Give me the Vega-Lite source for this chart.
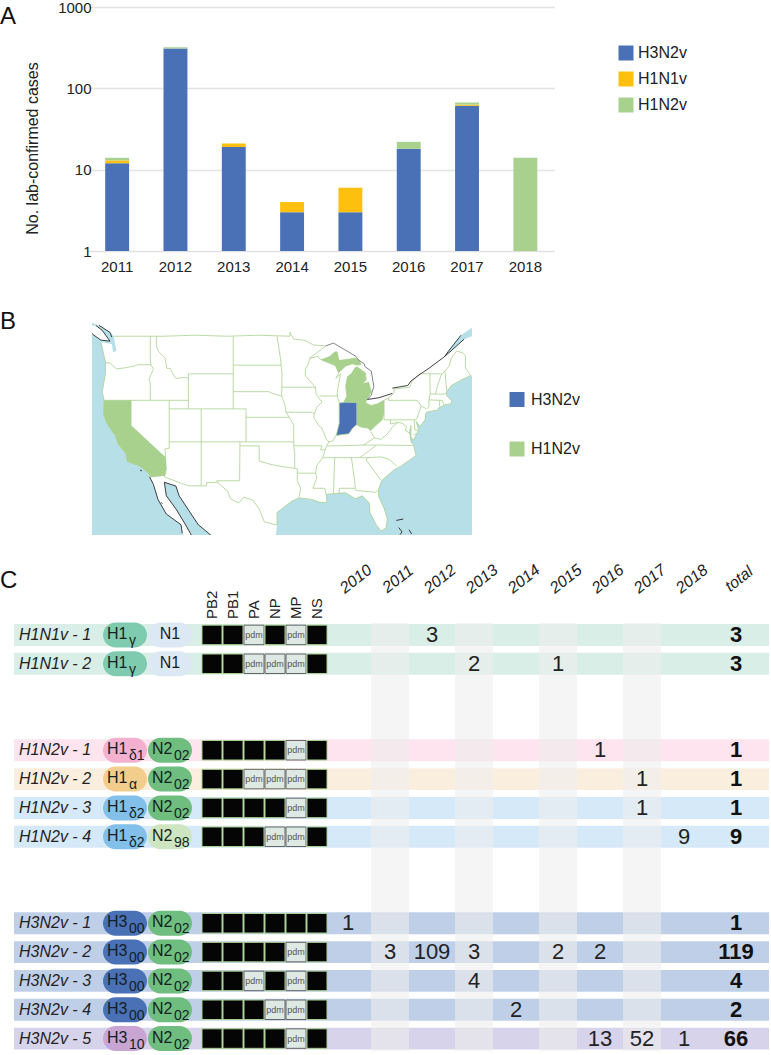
{"$schema":"https://vega.github.io/schema/vega-lite/v6.json","padding":0,"background":"white","spacing":0,
"config":{"view":{"stroke":null},"font":"Liberation Sans","text":{"font":"Liberation Sans"}},
"datasets":{
"cases":[
{"year":"2011","subtype":"H3N2v","low":1,"high":12},{"year":"2011","subtype":"H1N1v","low":12,"high":13},{"year":"2011","subtype":"H1N2v","low":13,"high":14},
{"year":"2012","subtype":"H3N2v","low":1,"high":309},{"year":"2012","subtype":"H1N2v","low":309,"high":320},
{"year":"2013","subtype":"H3N2v","low":1,"high":19},{"year":"2013","subtype":"H1N1v","low":19,"high":21},
{"year":"2014","subtype":"H3N2v","low":1,"high":3},{"year":"2014","subtype":"H1N1v","low":3,"high":4},
{"year":"2015","subtype":"H3N2v","low":1,"high":3},{"year":"2015","subtype":"H1N1v","low":3,"high":6},
{"year":"2016","subtype":"H3N2v","low":1,"high":18},{"year":"2016","subtype":"H1N2v","low":18,"high":22},
{"year":"2017","subtype":"H3N2v","low":1,"high":61},{"year":"2017","subtype":"H1N1v","low":61,"high":63},{"year":"2017","subtype":"H1N2v","low":63,"high":67},
{"year":"2018","subtype":"H1N2v","low":1,"high":14}],
"strains":[
{"strain":"H1N1v - 1","family":"H1N1","total":3},{"strain":"H1N1v - 2","family":"H1N1","total":3},
{"strain":"H1N2v - 1","family":"d1","total":1},{"strain":"H1N2v - 2","family":"alpha","total":1},{"strain":"H1N2v - 3","family":"d2","total":1},{"strain":"H1N2v - 4","family":"d2","total":9},
{"strain":"H3N2v - 1","family":"H300","total":1},{"strain":"H3N2v - 2","family":"H300","total":119},{"strain":"H3N2v - 3","family":"H300","total":4},{"strain":"H3N2v - 4","family":"H300","total":2},{"strain":"H3N2v - 5","family":"H310","total":66}],
"counts":[
{"strain":"H1N1v - 1","year":"2012","n":3},{"strain":"H1N1v - 2","year":"2013","n":2},{"strain":"H1N1v - 2","year":"2015","n":1},
{"strain":"H1N2v - 1","year":"2016","n":1},{"strain":"H1N2v - 2","year":"2017","n":1},{"strain":"H1N2v - 3","year":"2017","n":1},{"strain":"H1N2v - 4","year":"2018","n":9},
{"strain":"H3N2v - 1","year":"2010","n":1},
{"strain":"H3N2v - 2","year":"2011","n":3},{"strain":"H3N2v - 2","year":"2012","n":109},{"strain":"H3N2v - 2","year":"2013","n":3},{"strain":"H3N2v - 2","year":"2015","n":2},{"strain":"H3N2v - 2","year":"2016","n":2},
{"strain":"H3N2v - 3","year":"2013","n":4},{"strain":"H3N2v - 4","year":"2014","n":2},
{"strain":"H3N2v - 5","year":"2016","n":13},{"strain":"H3N2v - 5","year":"2017","n":52},{"strain":"H3N2v - 5","year":"2018","n":1}],
"pills":[
{"strain":"H1N1v - 1","seg":"HA","pill":"H1g","main":"H1","sub":"γ"},{"strain":"H1N1v - 1","seg":"NA","pill":"N1","main":"N1","sub":""},
{"strain":"H1N1v - 2","seg":"HA","pill":"H1g","main":"H1","sub":"γ"},{"strain":"H1N1v - 2","seg":"NA","pill":"N1","main":"N1","sub":""},
{"strain":"H1N2v - 1","seg":"HA","pill":"H1d1","main":"H1","sub":"δ1"},{"strain":"H1N2v - 1","seg":"NA","pill":"N202","main":"N2","sub":"02"},
{"strain":"H1N2v - 2","seg":"HA","pill":"H1a","main":"H1","sub":"α"},{"strain":"H1N2v - 2","seg":"NA","pill":"N202","main":"N2","sub":"02"},
{"strain":"H1N2v - 3","seg":"HA","pill":"H1d2","main":"H1","sub":"δ2"},{"strain":"H1N2v - 3","seg":"NA","pill":"N202","main":"N2","sub":"02"},
{"strain":"H1N2v - 4","seg":"HA","pill":"H1d2","main":"H1","sub":"δ2"},{"strain":"H1N2v - 4","seg":"NA","pill":"N298","main":"N2","sub":"98"},
{"strain":"H3N2v - 1","seg":"HA","pill":"H300","main":"H3","sub":"00"},{"strain":"H3N2v - 1","seg":"NA","pill":"N202","main":"N2","sub":"02"},
{"strain":"H3N2v - 2","seg":"HA","pill":"H300","main":"H3","sub":"00"},{"strain":"H3N2v - 2","seg":"NA","pill":"N202","main":"N2","sub":"02"},
{"strain":"H3N2v - 3","seg":"HA","pill":"H300","main":"H3","sub":"00"},{"strain":"H3N2v - 3","seg":"NA","pill":"N202","main":"N2","sub":"02"},
{"strain":"H3N2v - 4","seg":"HA","pill":"H300","main":"H3","sub":"00"},{"strain":"H3N2v - 4","seg":"NA","pill":"N202","main":"N2","sub":"02"},
{"strain":"H3N2v - 5","seg":"HA","pill":"H310","main":"H3","sub":"10"},{"strain":"H3N2v - 5","seg":"NA","pill":"N202","main":"N2","sub":"02"}],
"genes":[
{"strain":"H1N1v - 1","gene":"PB2","origin":"classic"},{"strain":"H1N1v - 1","gene":"PB1","origin":"classic"},{"strain":"H1N1v - 1","gene":"PA","origin":"pdm"},{"strain":"H1N1v - 1","gene":"NP","origin":"classic"},{"strain":"H1N1v - 1","gene":"MP","origin":"pdm"},{"strain":"H1N1v - 1","gene":"NS","origin":"classic"},
{"strain":"H1N1v - 2","gene":"PB2","origin":"classic"},{"strain":"H1N1v - 2","gene":"PB1","origin":"classic"},{"strain":"H1N1v - 2","gene":"PA","origin":"pdm"},{"strain":"H1N1v - 2","gene":"NP","origin":"pdm"},{"strain":"H1N1v - 2","gene":"MP","origin":"pdm"},{"strain":"H1N1v - 2","gene":"NS","origin":"classic"},
{"strain":"H1N2v - 1","gene":"PB2","origin":"classic"},{"strain":"H1N2v - 1","gene":"PB1","origin":"classic"},{"strain":"H1N2v - 1","gene":"PA","origin":"classic"},{"strain":"H1N2v - 1","gene":"NP","origin":"classic"},{"strain":"H1N2v - 1","gene":"MP","origin":"pdm"},{"strain":"H1N2v - 1","gene":"NS","origin":"classic"},
{"strain":"H1N2v - 2","gene":"PB2","origin":"classic"},{"strain":"H1N2v - 2","gene":"PB1","origin":"classic"},{"strain":"H1N2v - 2","gene":"PA","origin":"pdm"},{"strain":"H1N2v - 2","gene":"NP","origin":"pdm"},{"strain":"H1N2v - 2","gene":"MP","origin":"pdm"},{"strain":"H1N2v - 2","gene":"NS","origin":"classic"},
{"strain":"H1N2v - 3","gene":"PB2","origin":"classic"},{"strain":"H1N2v - 3","gene":"PB1","origin":"classic"},{"strain":"H1N2v - 3","gene":"PA","origin":"classic"},{"strain":"H1N2v - 3","gene":"NP","origin":"classic"},{"strain":"H1N2v - 3","gene":"MP","origin":"pdm"},{"strain":"H1N2v - 3","gene":"NS","origin":"classic"},
{"strain":"H1N2v - 4","gene":"PB2","origin":"classic"},{"strain":"H1N2v - 4","gene":"PB1","origin":"classic"},{"strain":"H1N2v - 4","gene":"PA","origin":"classic"},{"strain":"H1N2v - 4","gene":"NP","origin":"pdm"},{"strain":"H1N2v - 4","gene":"MP","origin":"pdm"},{"strain":"H1N2v - 4","gene":"NS","origin":"classic"},
{"strain":"H3N2v - 1","gene":"PB2","origin":"classic"},{"strain":"H3N2v - 1","gene":"PB1","origin":"classic"},{"strain":"H3N2v - 1","gene":"PA","origin":"classic"},{"strain":"H3N2v - 1","gene":"NP","origin":"classic"},{"strain":"H3N2v - 1","gene":"MP","origin":"classic"},{"strain":"H3N2v - 1","gene":"NS","origin":"classic"},
{"strain":"H3N2v - 2","gene":"PB2","origin":"classic"},{"strain":"H3N2v - 2","gene":"PB1","origin":"classic"},{"strain":"H3N2v - 2","gene":"PA","origin":"classic"},{"strain":"H3N2v - 2","gene":"NP","origin":"classic"},{"strain":"H3N2v - 2","gene":"MP","origin":"pdm"},{"strain":"H3N2v - 2","gene":"NS","origin":"classic"},
{"strain":"H3N2v - 3","gene":"PB2","origin":"classic"},{"strain":"H3N2v - 3","gene":"PB1","origin":"classic"},{"strain":"H3N2v - 3","gene":"PA","origin":"pdm"},{"strain":"H3N2v - 3","gene":"NP","origin":"classic"},{"strain":"H3N2v - 3","gene":"MP","origin":"pdm"},{"strain":"H3N2v - 3","gene":"NS","origin":"classic"},
{"strain":"H3N2v - 4","gene":"PB2","origin":"classic"},{"strain":"H3N2v - 4","gene":"PB1","origin":"classic"},{"strain":"H3N2v - 4","gene":"PA","origin":"classic"},{"strain":"H3N2v - 4","gene":"NP","origin":"pdm"},{"strain":"H3N2v - 4","gene":"MP","origin":"pdm"},{"strain":"H3N2v - 4","gene":"NS","origin":"classic"},
{"strain":"H3N2v - 5","gene":"PB2","origin":"classic"},{"strain":"H3N2v - 5","gene":"PB1","origin":"classic"},{"strain":"H3N2v - 5","gene":"PA","origin":"classic"},{"strain":"H3N2v - 5","gene":"NP","origin":"classic"},{"strain":"H3N2v - 5","gene":"MP","origin":"pdm"},{"strain":"H3N2v - 5","gene":"NS","origin":"classic"}],
"geneNames":[{"gene":"PB2"},{"gene":"PB1"},{"gene":"PA"},{"gene":"NP"},{"gene":"MP"},{"gene":"NS"}],
"yearNames":[{"year":"2010"},{"year":"2011"},{"year":"2012"},{"year":"2013"},{"year":"2014"},{"year":"2015"},{"year":"2016"},{"year":"2017"},{"year":"2018"}],
"shaded":[{"year":"2011"},{"year":"2013"},{"year":"2015"},{"year":"2017"}],
"land":[{"type":"Feature","properties":{"name":"land"},"geometry":{"type":"Polygon","coordinates":[[[-127,51.5],[-97,51.5],[-66,51.5],[-66,50.2],[-68.5,49.1],[-70.5,47.4],[-71,46.9],[-70,47.5],[-68,48.7],[-66,49.2],[-66,45],[-67,44.8],[-68.5,44.3],[-70,43.7],[-70.7,43],[-70.8,42.6],[-70,42],[-70,41.6],[-71,41.5],[-72,41.1],[-72,40.9],[-73.9,40.6],[-74,40.4],[-74.1,39.7],[-74.9,38.9],[-75.5,39.5],[-75.1,38.5],[-75.9,37.2],[-76.3,37.6],[-76.3,39],[-76.5,38.3],[-76.3,37],[-75.9,36.6],[-75.5,35.3],[-76.5,34.7],[-77.9,33.9],[-79,33.4],[-80.9,32],[-81.4,30.7],[-81.3,29.8],[-80.5,28.3],[-80,26.8],[-80.2,25.5],[-81,25.1],[-81.8,26.1],[-82.7,27.7],[-82.8,29],[-83.9,30],[-85,29.6],[-86.5,30.4],[-88,30.3],[-89.5,30.2],[-89.4,29.1],[-90.5,29.1],[-91.8,29.5],[-93.8,29.7],[-95,29.2],[-97.2,27.7],[-97.2,26],[-97.7,22.5],[-105.5,22.5],[-107.5,24.5],[-109.5,26],[-111,28],[-112.5,30],[-113,31.3],[-114.8,31.8],[-114.5,30],[-113,28.2],[-111.5,26],[-110.2,24],[-109.8,23],[-110,22.9],[-112,24.8],[-112.2,26],[-114.5,27.5],[-115.8,29.5],[-116.5,31.5],[-117.1,32.5],[-117.3,33],[-118.4,33.8],[-119.2,34.1],[-120.6,34.5],[-120.8,35.5],[-122,36.7],[-122.5,37.8],[-123.8,39.3],[-124.3,40.4],[-124.2,42],[-124.5,43],[-124,45],[-124,46.3],[-124.7,48.4],[-123,48.2],[-122.8,47.3],[-122.3,47.5],[-122.7,49],[-123.3,49.4],[-125,50.1],[-127,50.6],[-127,51.5]]]}},
{"type":"Feature","properties":{"name":"vancouver"},"geometry":{"type":"Polygon","coordinates":[[[-125.5,50.1],[-124.5,49.6],[-123.3,48.5],[-124.7,48.6],[-126,49.2],[-127,50],[-125.5,50.1]]]}}],
"lines":[{"type":"Feature","properties":{"kind":"state"},"geometry":{"type":"MultiLineString","coordinates":[
[[-122.7,49],[-115,49],[-105,49],[-95.2,49],[-95.2,49.4],[-94.6,48.7],[-93,48.6],[-91.5,48.1],[-89.6,48],[-92.1,46.7],[-90.8,46.9],[-90.4,46.55]],
[[-124,46.25],[-123.2,46.15],[-122.3,45.55],[-121,45.65],[-119.3,45.9],[-119,46],[-116.9,46]],
[[-117,49],[-117,46.4],[-116.9,46],[-116.5,45.5],[-116.9,44.9],[-117.2,44.4],[-117,44],[-117,42]],
[[-124.2,42],[-120,42],[-117,42],[-114,42],[-111.05,42]],
[[-120,42],[-120,39],[-114.6,35],[-114.5,33.5],[-114.7,32.7],[-117.1,32.5]],
[[-114.05,42],[-114.05,36.2],[-114.7,36.1],[-114.6,35]],
[[-116.05,49],[-116.05,48],[-115.7,47.4],[-114.7,46.7],[-114.4,45.6],[-113.9,45.6],[-113.4,44.9],[-113,44.5],[-111.5,44.6],[-111.05,44.5]],
[[-111.05,45],[-111.05,41]],[[-111.05,45],[-104.05,45]],[[-114.05,41],[-109.05,41],[-104.05,41],[-102.05,41],[-102.05,37]],
[[-104.05,49],[-104.05,41]],[[-104.05,45.95],[-96.6,45.95]],[[-104.05,43],[-98.5,43],[-97.9,42.8],[-96.5,42.5]],
[[-102.05,40],[-95.3,40]],[[-109.05,41],[-109.05,31.33]],[[-114.05,37],[-109.05,37],[-102.05,37],[-94.6,37]],
[[-114.7,32.7],[-114.8,32.5],[-111.07,31.33],[-108.2,31.33],[-108.2,31.78],[-106.5,31.78]],
[[-103,37],[-103.05,32],[-106.6,32],[-106.5,31.78]],
[[-103,36.5],[-100,36.5],[-100,34.56],[-98,34.1],[-96,33.8],[-94.5,33.65],[-94.05,33.55],[-94.05,33],[-94.05,32],[-93.5,31],[-93.8,29.7]],
[[-106.5,31.78],[-104.9,30.6],[-104.5,29.6],[-103.2,29],[-102.4,29.8],[-101,29.4],[-100,28.2],[-99.2,26.4],[-97.2,25.95]],
[[-95.3,40],[-94.6,39.1],[-94.6,36.5],[-94.45,35.4],[-94.45,33.65]],
[[-94.05,33],[-91.2,33]],[[-94.6,36.5],[-90.2,36.5],[-90.4,36],[-89.7,36]],
[[-92.1,46.7],[-92.3,46.1],[-92.8,45.5],[-92.8,44.8],[-91.2,43.5],[-91.1,42.7],[-90.2,41.8],[-91,41.2],[-91.4,40.4],[-91.5,40],[-90.7,39],[-90.2,38.7],[-89.5,37.3],[-89.1,37],[-89.5,36.5],[-89.7,36],[-90.1,35],[-91,34],[-91.2,33],[-91,32.4],[-91.6,31],[-89.75,31],[-89.6,30.2]],
[[-96.45,43.5],[-91.2,43.5]],[[-97.2,49],[-96.6,46.3],[-96.6,45.95],[-96.45,45.3],[-96.45,43.5],[-96.5,42.5],[-96,41.5],[-95.8,40.6],[-95.3,40]],
[[-95.8,40.6],[-91.7,40.6],[-91.4,40.4]],[[-90.6,42.5],[-87.8,42.5]],
[[-90.4,46.55],[-88.1,45.9],[-87.6,45.1],[-88,44.5],[-87.3,45],[-87.8,43],[-87.8,42.5],[-87.5,41.7],[-87.5,39.3],[-87.9,38],[-88,37.8]],
[[-89.1,37],[-88.5,37.1],[-88,37.8],[-87,37.9],[-86,38],[-85.4,38.7],[-84.8,39.1],[-84,38.8],[-83,38.7],[-82.6,38.4],[-81.8,39],[-80.8,39.7],[-80.5,40.6]],
[[-89.4,36.5],[-88,36.5],[-83.7,36.6],[-81.7,36.6],[-75.9,36.55]],[[-83.7,36.6],[-82,37.5],[-82.6,38.3]],
[[-82,37.5],[-81,37.3],[-80,38],[-79,39],[-78.3,39.4],[-77.7,39.3],[-77,38.9],[-77.2,38.4],[-76.3,38]],
[[-81.7,36.6],[-82.8,35.9],[-84.3,35]],[[-90.1,35],[-84.3,35],[-83.1,35]],[[-88.2,35],[-88.4,30.3]],
[[-85.6,35],[-85.1,32],[-85,31]],[[-87.5,30.3],[-87.5,31],[-85,31],[-84.9,30.7],[-82.2,30.5],[-82,30.4],[-81.5,30.7]],
[[-83.1,35],[-83.3,34.7],[-81,32.1]],[[-83.1,35],[-81,35.1],[-79.7,34.8],[-78.5,33.9]],
[[-80.5,42],[-80.5,39.7],[-75.8,39.7],[-75.4,39.8]],[[-79.8,42.27],[-79.8,42],[-75.3,42],[-74.7,41.35],[-73.9,41]],[[-74.7,41.35],[-75.1,40.5],[-75.4,39.8]],
[[-79.5,39.7],[-79.5,39.2],[-78.3,39.4]],[[-75.8,39.7],[-75.7,38.45],[-75.05,38.45]],[[-75.9,37.9],[-75.4,38]],
[[-79.8,42.27],[-78.9,42.9],[-79,43.3],[-76.5,43.5],[-76.2,44.1],[-75,45],[-71.5,45],[-71,45.3],[-70.7,43]],
[[-71.5,45],[-72,44],[-72.5,42.73]],[[-73.35,45],[-73.3,42.75],[-73.5,42],[-73.5,41.3],[-73.7,41]],
[[-73.5,42.05],[-71.8,42],[-71.4,42],[-71.2,41.5]],[[-71.8,42],[-71.85,41.3]],[[-73.3,42.75],[-71.3,42.7],[-70.8,42.85]],
[[-71,45.3],[-70.3,45.9],[-70,46.7],[-69.2,47.45],[-68.3,47.3],[-67.8,47],[-67.8,45.7],[-67,44.8]],
[[-67,44.8],[-68.5,44.3],[-70,43.7],[-70.7,43],[-70.8,42.6],[-70,42],[-70,41.6],[-71,41.5],[-72,41.1],[-72,40.9],[-73.9,40.6],[-74,40.4],[-74.1,39.7],[-74.9,38.9],[-75.5,39.5],[-75.1,38.5],[-75.9,37.2],[-76.3,37.6],[-76.3,39],[-76.5,38.3],[-76.3,37],[-75.9,36.6],[-75.5,35.3],[-76.5,34.7],[-77.9,33.9],[-79,33.4],[-80.9,32],[-81.4,30.7],[-81.3,29.8],[-80.5,28.3],[-80,26.8],[-80.2,25.5],[-81,25.1],[-81.8,26.1],[-82.7,27.7],[-82.8,29],[-83.9,30],[-85,29.6],[-86.5,30.4],[-88,30.3],[-89.5,30.2],[-89.4,29.1],[-90.5,29.1],[-91.8,29.5],[-93.8,29.7],[-95,29.2],[-97.2,27.7],[-97.2,26]],
[[-117.3,33],[-118.4,33.8],[-119.2,34.1],[-120.6,34.5],[-120.8,35.5],[-122,36.7],[-122.5,37.8],[-123.8,39.3],[-124.3,40.4],[-124.2,42],[-124.5,43],[-124,45],[-124,46.3],[-124.7,48.4]],
[[-87.5,41.7],[-86.8,41.76],[-86.3,42.5],[-86.5,43.6],[-86.2,44.7],[-85.6,45],[-85,45.7],[-84.7,45.75],[-83.4,45.1],[-83.3,44.3],[-83.9,43.9],[-82.9,44.05],[-82.5,43],[-83.1,42.2],[-83.4,41.7],[-82.5,41.4],[-81.5,41.6],[-80.5,42],[-79.8,42.27]]
]}},
{"type":"Feature","properties":{"kind":"international"},"geometry":{"type":"MultiLineString","coordinates":[
[[-89.6,48],[-88.4,48.3],[-84.9,46.9],[-84.5,46.5],[-83.6,46.1],[-83.5,45.8],[-82.5,45.3],[-82.1,43.6],[-82.5,42.6],[-83.1,42.1]]
]}},
{"type":"Feature","properties":{"kind":"coast"},"geometry":{"type":"MultiLineString","coordinates":[
[[-83.1,42.1],[-81.3,42.3],[-79.2,42.8]],[[-79.2,43.4],[-76.8,43.7],[-76.3,44.2],[-74.8,45],[-73.5,45.6],[-71.2,46.8],[-70,47.5],[-68,48.7]],
[[-68.5,49.1],[-70.5,47.4],[-71,46.9]],
[[-117.1,32.5],[-116.5,31.5],[-115.8,29.5],[-114.5,27.5],[-112.2,26],[-112,24.8]],[[-114.8,31.8],[-114.5,30],[-113,28.2],[-111.5,26],[-110.5,24.4]],
[[-114.8,31.8],[-113,31.3],[-112.5,30],[-111,28],[-109.5,26],[-107.5,24.5]],
[[-123.3,48.5],[-124.7,48.6],[-126,49.2],[-127,50]],[[-125.5,50.1],[-124.5,49.6],[-123.3,48.5]],[[-123,48.9],[-123.3,49.4],[-125,50.1]],
[[-78.2,25.6],[-77.7,25],[-78,24.6]],[[-77.5,26.8],[-78.6,26.6]],[[-76.6,25.3],[-76.2,24.7]],
[[-118.6,33.4],[-118.3,33.3]],[[-115.3,29.1],[-115.1,28.9]]
]}}],
"states":[
{"type":"Feature","properties":{"name":"California","subtype":"H1N2v"},"geometry":{"type":"Polygon","coordinates":[[[-124.2,42],[-120,42],[-120,39],[-114.6,35],[-114.5,33.5],[-114.7,32.7],[-117.1,32.5],[-117.3,33],[-118.4,33.8],[-119.2,34.1],[-120.6,34.5],[-120.8,35.5],[-122,36.7],[-122.5,37.8],[-123.8,39.3],[-124.3,40.4],[-124.2,42]]]}},
{"type":"Feature","properties":{"name":"Michigan","subtype":"H1N2v"},"geometry":{"type":"MultiPolygon","coordinates":[[[[-86.8,41.76],[-86.3,42.5],[-86.5,43.6],[-86.2,44.7],[-85.6,45],[-85,45.7],[-84.7,45.75],[-83.4,45.1],[-83.3,44.3],[-83.9,43.9],[-82.9,44.05],[-82.5,43],[-83.1,42.2],[-83.4,41.7],[-84.8,41.7],[-86.8,41.76]]],[[[-90.4,46.55],[-89,46.9],[-88.2,47.4],[-87.8,47.4],[-87.5,46.5],[-86,46.65],[-85,46.75],[-84.4,46.5],[-84,46],[-84.7,45.9],[-85.5,46.05],[-86.5,45.8],[-87.6,45.1],[-88.1,45.9],[-90.4,46.55]]]]}},
{"type":"Feature","properties":{"name":"Ohio","subtype":"H1N2v"},"geometry":{"type":"Polygon","coordinates":[[[-84.8,41.7],[-83.4,41.7],[-82.5,41.4],[-81.5,41.6],[-80.5,42],[-80.5,40.6],[-80.8,39.7],[-81.8,39],[-82.6,38.4],[-83,38.7],[-84,38.8],[-84.8,39.1],[-84.8,41.7]]]}},
{"type":"Feature","properties":{"name":"Indiana","subtype":"H3N2v"},"geometry":{"type":"Polygon","coordinates":[[[-87.5,41.7],[-86.8,41.76],[-84.8,41.7],[-84.8,39.1],[-85.4,38.7],[-86,38],[-87,37.9],[-88,37.8],[-87.9,38],[-87.5,39.3],[-87.5,41.7]]]}}],
"mapKey":[{"subtype":"H3N2v"},{"subtype":"H1N2v"}]
},
"vconcat":[
{"spacing":0,"bounds":"flush","hconcat":[
{"width":95,"height":309,"title":{"text":"A","anchor":"start","frame":"group","offset":0,"dy":47,"baseline":"alphabetic","fontSize":24,"fontWeight":"normal","font":"Liberation Sans","color":"#111"},"data":{"values":[]},"mark":"text"},
{"width":460,"height":250,"data":{"name":"cases"},"mark":{"type":"bar"},
"encoding":{
"x":{"field":"year","type":"nominal","title":null,"scale":{"domain":["2011","2012","2013","2014","2015","2016","2017","2018"],"range":[-7,459.5],"paddingInner":0.59,"paddingOuter":0.295},"axis":{"labelAngle":0,"labelFontSize":15,"labelFont":"Liberation Sans","labelColor":"#222","ticks":false,"domainColor":"#e0e0e0","labelPadding":8}},
"y":{"field":"high","type":"quantitative","title":"No. lab-confirmed cases","scale":{"type":"log","domain":[1,1000],"range":[250,6],"nice":false},"axis":{"values":[1,10,100,1000],"format":"d","grid":true,"gridColor":"#e4e4e4","gridWidth":1.5,"domain":false,"ticks":false,"labelFontSize":15,"labelFont":"Liberation Sans","labelColor":"#222","labelPadding":4,"titleFontSize":16,"titleFont":"Liberation Sans","titleFontWeight":"normal","titleColor":"#222","titlePadding":17,"titleY":147}},
"y2":{"field":"low"},
"color":{"field":"subtype","type":"nominal","scale":{"domain":["H3N2v","H1N1v","H1N2v"],"range":["#4a71b5","#fec00f","#a9d18e"]},"legend":{"orient":"none","legendX":618,"legendY":44,"title":null,"symbolType":"square","symbolSize":225,"symbolStrokeWidth":0,"labelFontSize":16,"labelFont":"Liberation Sans","labelColor":"#222","rowPadding":10}}}}
]},
{"spacing":0,"bounds":"flush","hconcat":[
{"width":92,"height":239.5,"title":{"text":"B","anchor":"start","frame":"group","offset":0,"dy":32,"baseline":"alphabetic","fontSize":24,"fontWeight":"normal","font":"Liberation Sans","color":"#111"},"data":{"values":[]},"mark":"text"},
{"width":380,"height":214,"view":{"fill":"#b7dfe8"},"projection":{"type":"mercator","scale":367,"translate":[807.7,376.3]},
"layer":[
{"data":{"name":"land"},"mark":{"type":"geoshape","fill":"white","stroke":null,"clip":true}},
{"data":{"name":"states"},"mark":{"type":"geoshape","clip":true,"stroke":null},"encoding":{"color":{"field":"properties.subtype","type":"nominal","scale":{"domain":["H3N2v","H1N2v"],"range":["#4a71b5","#a9d18e"]},"legend":null}}},
{"data":{"name":"lines"},"mark":{"type":"geoshape","filled":false,"clip":true,"strokeWidth":0.8},"encoding":{"stroke":{"field":"properties.kind","type":"nominal","scale":{"domain":["state","international","coast"],"range":["#a9d18e","#666666","#111111"]},"legend":null}}}
]},
{"width":90,"height":214,"data":{"name":"mapKey"},"encoding":{"y":{"field":"subtype","type":"nominal","title":null,"axis":null,"scale":{"type":"point","domain":["H3N2v","H1N2v"],"range":[78.5,128],"padding":0}}},
"layer":[
{"mark":{"type":"square","size":225,"opacity":1},"encoding":{"color":{"field":"subtype","type":"nominal","legend":null,"scale":{"domain":["H3N2v","H1N2v"],"range":["#4a71b5","#a9d18e"]}}}},
{"mark":{"type":"text","align":"left","dx":14,"fontSize":16,"color":"#222","font":"Liberation Sans"},"encoding":{"text":{"field":"subtype"}}}
]}
]},
{"spacing":0,"bounds":"flush","hconcat":[
{"width":14,"height":428,"title":{"text":"C","anchor":"start","frame":"group","offset":0,"dy":-11,"baseline":"alphabetic","fontSize":24,"fontWeight":"normal","font":"Liberation Sans","color":"#111"},"data":{"values":[]},"mark":"text"},
{"width":755,"height":428,"resolve":{"scale":{"x":"independent","color":"independent"}},
"layer":[
{"data":{"name":"strains"},"mark":{"type":"rect"},"encoding":{
"y":{"field":"strain","type":"nominal","title":null,"axis":null,"scale":{"type":"band","domain":["head","H1N1v - 1","H1N1v - 2","gap1","gap2","H1N2v - 1","H1N2v - 2","H1N2v - 3","H1N2v - 4","gap3","gap4","H3N2v - 1","H3N2v - 2","H3N2v - 3","H3N2v - 4","H3N2v - 5"],"range":[-31.33,430],"paddingInner":0.24,"paddingOuter":0.12}},
"color":{"field":"family","type":"nominal","legend":null,"scale":{"domain":["H1N1","d1","alpha","d2","H300","H310"],"range":["#d8eee7","#fde4ef","#faefdf","#d5e9f8","#bfcfe8","#d6d3ea"]}}}},
{"layer":[
{"data":{"name":"shaded"},"mark":{"type":"rect","width":38,"color":"#eeeeee","opacity":0.58},"encoding":{"x":{"field":"year","type":"nominal","axis":null,"title":null,"scale":{"type":"band","domain":["2010","2011","2012","2013","2014","2015","2016","2017","2018","total"],"range":[313,733],"padding":0}}}},
{"data":{"name":"counts"},"mark":{"type":"text","fontSize":22,"color":"#222","font":"Liberation Sans"},"encoding":{"x":{"field":"year","type":"nominal","axis":null,"title":null},"y":{"field":"strain","type":"nominal"},"text":{"field":"n","type":"quantitative"}}},
{"data":{"name":"strains"},"mark":{"type":"text","fontSize":22,"fontWeight":"bold","dx":10,"color":"#111","font":"Liberation Sans"},"encoding":{"x":{"datum":"total","type":"nominal","axis":null,"title":null},"y":{"field":"strain","type":"nominal"},"text":{"field":"total","type":"quantitative"}}},
{"data":{"name":"yearNames"},"mark":{"type":"text","fontSize":16,"fontStyle":"italic","angle":322,"dx":22.9,"dy":-16.4,"color":"#222","font":"Liberation Sans"},"encoding":{"x":{"field":"year","type":"nominal","axis":null,"title":null},"y":{"datum":"head","type":"nominal"},"text":{"field":"year"}}},
{"data":{"values":[{"label":"total"}]},"mark":{"type":"text","fontSize":16,"fontStyle":"italic","angle":322,"dx":26.9,"dy":-13.3,"color":"#222","font":"Liberation Sans"},"encoding":{"x":{"datum":"total","type":"nominal","axis":null,"title":null},"y":{"datum":"head","type":"nominal"},"text":{"field":"label"}}}
]},
{"layer":[
{"data":{"name":"genes"},"mark":{"type":"rect","width":20,"height":19.5,"strokeWidth":1},"encoding":{"x":{"field":"gene","type":"nominal","axis":null,"title":null,"scale":{"type":"band","domain":["PB2","PB1","PA","NP","MP","NS"],"range":[187.5,313.5],"padding":0}},"y":{"field":"strain","type":"nominal"},"color":{"field":"origin","type":"nominal","legend":null,"scale":{"domain":["classic","pdm"],"range":["#050505","#dde9e2"]}},"stroke":{"field":"origin","type":"nominal","legend":null,"scale":{"domain":["classic","pdm"],"range":["#050505","#6d6d6d"]}}}},
{"data":{"name":"genes"},"transform":[{"filter":"datum.origin === 'pdm'"}],"mark":{"type":"text","fontSize":9,"color":"#555","font":"Liberation Sans"},"encoding":{"x":{"field":"gene","type":"nominal","axis":null,"title":null},"y":{"field":"strain","type":"nominal"},"text":{"field":"origin"}}},
{"data":{"name":"geneNames"},"mark":{"type":"text","fontSize":15,"angle":270,"align":"left","baseline":"middle","dx":-13,"color":"#222","font":"Liberation Sans"},"encoding":{"x":{"field":"gene","type":"nominal","axis":null,"title":null},"y":{"datum":"head","type":"nominal"},"text":{"field":"gene"}}}
]},
{"layer":[
{"data":{"name":"strains"},"mark":{"type":"text","fontSize":16,"fontStyle":"italic","align":"left","dx":-61,"color":"#222","font":"Liberation Sans"},"encoding":{"x":{"datum":"label","type":"nominal","axis":null,"title":null,"scale":{"type":"band","domain":["label","HA","NA"],"range":[43.5,178.5],"padding":0}},"y":{"field":"strain","type":"nominal"},"text":{"field":"strain"}}},
{"data":{"name":"pills"},"mark":{"type":"rect","width":44,"height":25,"cornerRadius":12.5},"encoding":{"x":{"field":"seg","type":"nominal","axis":null,"title":null},"y":{"field":"strain","type":"nominal"},"color":{"field":"pill","type":"nominal","legend":null,"scale":{"domain":["H1g","N1","H1d1","H1a","H1d2","N202","N298","H300","H310"],"range":["#7fcbb0","#dde8f5","#f4b0cf","#f2cd8c","#82c0ea","#6fbd7f","#cde5c0","#4a70b6","#c9a5d4"]}}}},
{"data":{"name":"pills"},"transform":[{"filter":"datum.sub !== ''"}],"mark":{"type":"text","fontSize":16,"align":"right","dx":2.5,"dy":-1,"color":"#151f22","font":"Liberation Sans"},"encoding":{"x":{"field":"seg","type":"nominal","axis":null,"title":null},"y":{"field":"strain","type":"nominal"},"text":{"field":"main"}}},
{"data":{"name":"pills"},"transform":[{"filter":"datum.sub !== ''"}],"mark":{"type":"text","fontSize":14,"align":"left","dx":4,"dy":6,"color":"#151f22","font":"Liberation Sans"},"encoding":{"x":{"field":"seg","type":"nominal","axis":null,"title":null},"y":{"field":"strain","type":"nominal"},"text":{"field":"sub"}}},
{"data":{"name":"pills"},"transform":[{"filter":"datum.sub === ''"}],"mark":{"type":"text","fontSize":16,"dy":-1,"color":"#151f22","font":"Liberation Sans"},"encoding":{"x":{"field":"seg","type":"nominal","axis":null,"title":null},"y":{"field":"strain","type":"nominal"},"text":{"field":"main"}}}
]}
]}
]}
]}
